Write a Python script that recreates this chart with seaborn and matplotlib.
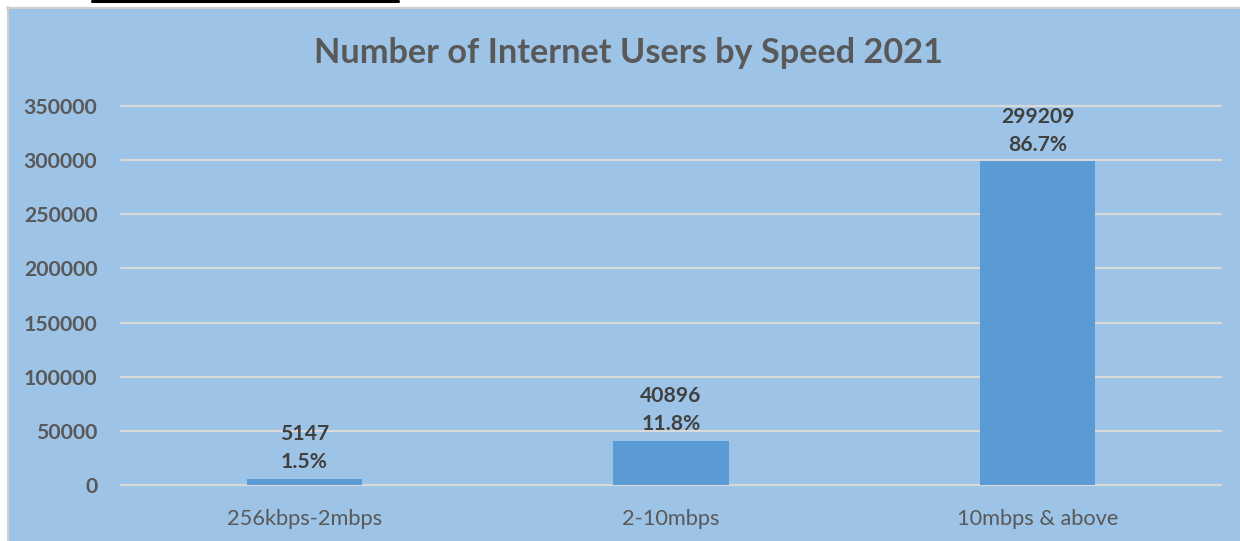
import matplotlib
matplotlib.use("Agg")
import matplotlib.pyplot as plt
from matplotlib.patches import Rectangle
from matplotlib.lines import Line2D
import seaborn as sns
import pandas as pd

categories = ["256kbps-2mbps", "2-10mbps", "10mbps & above"]
users = [5147, 40896, 299209]
shares = ["1.5%", "11.8%", "86.7%"]
yticks = [0, 50000, 100000, 150000, 200000, 250000, 300000, 350000]
title = "Number of Internet Users by Speed 2021"

sns.set_theme(style="white")
plt.rcParams["font.family"] = ["Lato", "DejaVu Sans"]

BG = "#9DC3E6"
BAR = "#5B9BD5"
GRID = "#D9D9D9"
TXT = "#595959"
LBL = "#404040"

W, H = 1240, 541
fig = plt.figure(figsize=(W / 100, H / 100), dpi=100)
fig.patch.set_facecolor("white")

# chart area panel with a thin grey frame
fig.add_artist(Rectangle((8 / W, 0), 1 - 8 / W, (H - 8) / H, transform=fig.transFigure,
                         facecolor=BG, edgecolor="none", zorder=0))
fig.add_artist(Line2D([7.5 / W, 7.5 / W], [0, (H - 7) / H], transform=fig.transFigure,
                      color="#D0D0D0", lw=1.5, zorder=1))
fig.add_artist(Line2D([7 / W, 1], [(H - 7.5) / H, (H - 7.5) / H], transform=fig.transFigure,
                      color="#D0D0D0", lw=1.5, zorder=1))
# underline left over from the surrounding page
fig.add_artist(Line2D([92 / W, 398 / W], [(H - 1.2) / H, (H - 1.2) / H], transform=fig.transFigure,
                      color="black", lw=2.2, zorder=1))

left, right = 121 / W, 1221 / W
bottom, top = (H - 485) / H, (H - 106) / H
ax = fig.add_axes([left, bottom, right - left, top - bottom])
ax.set_facecolor("none")

df = pd.DataFrame({"speed": categories, "users": users})
sns.barplot(data=df, x="speed", y="users", color=BAR, width=0.314, saturation=1,
            linewidth=0, edgecolor="none", ax=ax, zorder=3)

ax.set_xlim(-0.5, 2.5)
ax.set_ylim(0, 350000)
ax.set_yticks(yticks)
ax.set_yticklabels([str(v) for v in yticks])
for v in yticks:
    ax.axhline(v, color=GRID, lw=1.6, zorder=1, clip_on=False)

for s in ax.spines.values():
    s.set_visible(False)
ax.tick_params(axis="both", length=0)
ax.tick_params(axis="y", pad=17, labelsize=15.3, labelcolor=TXT)
ax.tick_params(axis="x", pad=17, labelsize=15.7, labelcolor=TXT)
for t in ax.get_yticklabels():
    t.set_fontweight("bold")
ax.set_xlabel("")
ax.set_ylabel("")

# two-line value labels above each bar, kept inside the plot area
px = 350000 / (485 - 106)
for i, (v, s) in enumerate(zip(users, shares)):
    base = v + 11 * px
    upper = base + 28 * px
    limit = 350000 - 17 * px
    if upper > limit:
        shift = upper - limit
        base -= shift
        upper -= shift
    ax.text(i, base, s, ha="center", va="baseline", fontsize=15.2, fontweight="bold",
            color=LBL, zorder=4)
    ax.text(i, upper, str(v), ha="center", va="baseline", fontsize=15.2, fontweight="bold",
            color=LBL, zorder=4)

fig.text(629 / W, (H - 63) / H, title, ha="center", va="baseline", fontsize=24.7,
         fontweight="bold", color=TXT)

fig.savefig("out.png", dpi=100, facecolor=fig.get_facecolor())
